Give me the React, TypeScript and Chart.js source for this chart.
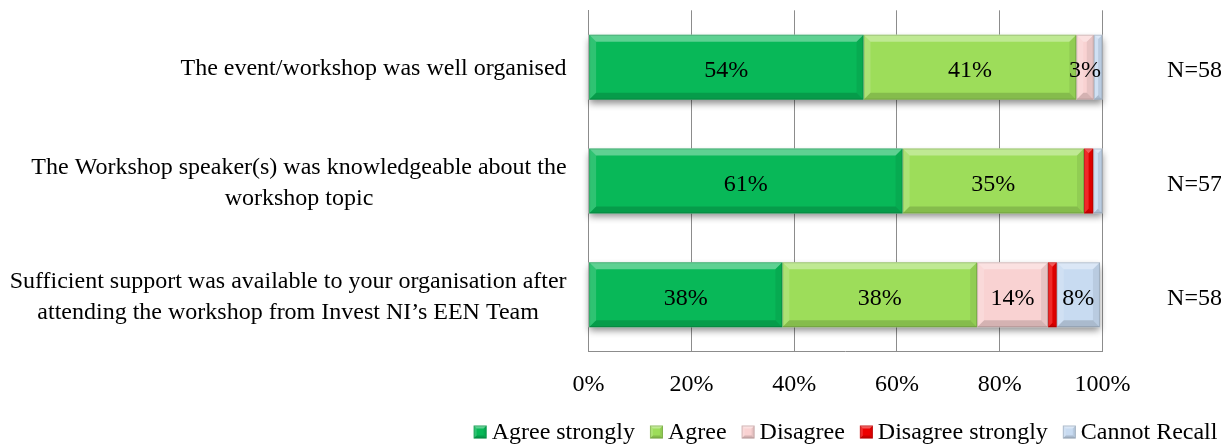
import { useEffect, useRef } from 'react';
import { Chart, registerables } from 'chart.js';

Chart.register(...registerables);

const categories: string[][] = [
  ['The event/workshop was well organised'],
  ['The Workshop speaker(s) was knowledgeable about the', 'workshop topic'],
  ['Sufficient support was available to your organisation after', 'attending the workshop from Invest NI\u2019s EEN Team'],
];
const seriesNames = ['Agree strongly', 'Agree', 'Disagree', 'Disagree strongly', 'Cannot Recall'];
const agreeStrongly = [53.5, 61.1, 37.7];
const agree = [41.4, 35.3, 37.9];
const disagree = [3.4, 0, 13.8];
const disagreeStrongly = [0, 1.8, 1.7];
const cannotRecall = [1.7, 1.8, 8.4];
const sampleSizes = ['N=58', 'N=57', 'N=58'];
const xTicks = [0, 20, 40, 60, 80, 100];
const seriesColors = ['#08B858', '#9DDD5A', '#F9D2D2', '#EE0000', '#C8DBF1'];

const FONT = "'Liberation Serif', 'Times New Roman', serif";
const FONT_SIZE = 24;
const GRID = '#8C8C8C';

function poly(ctx: CanvasRenderingContext2D, pts: number[][], fill: string) {
  ctx.beginPath();
  ctx.moveTo(pts[0][0], pts[0][1]);
  for (let i = 1; i < pts.length; i++) ctx.lineTo(pts[i][0], pts[i][1]);
  ctx.closePath();
  ctx.fillStyle = fill;
  ctx.fill();
}

function bevel(ctx: CanvasRenderingContext2D, l: number, t: number, r: number, b: number, size: number) {
  const w = r - l;
  const h = b - t;
  const bv = Math.min(size, w / 2, h / 2);
  poly(ctx, [[l, t], [r, t], [r - bv, t + bv], [l + bv, t + bv]], 'rgba(255,255,255,0.35)');
  poly(ctx, [[l, t], [l + bv, t + bv], [l + bv, b - bv], [l, b]], 'rgba(255,255,255,0.16)');
  poly(ctx, [[r, t], [r, b], [r - bv, b - bv], [r - bv, t + bv]], 'rgba(0,0,0,0.07)');
  poly(ctx, [[l, b], [r, b], [r - bv, b - bv], [l + bv, b - bv]], 'rgba(0,0,0,0.15)');
  ctx.strokeStyle = 'rgba(0,0,0,0.16)';
  ctx.lineWidth = 1;
  ctx.strokeRect(l + 0.5, t + 0.5, w - 1, h - 1);
}

const shadowPlugin = {
  id: 'barShadow',
  beforeDatasetsDraw(chart: any) {
    const { ctx, scales } = chart;
    const xs = scales.x;
    const meta0 = chart.getDatasetMeta(0);
    meta0.data.forEach((el: any, i: number) => {
      const { y, height } = el.getProps(['y', 'height'], true);
      let total = 0;
      chart.data.datasets.forEach((ds: any) => { total += ds.data[i]; });
      const l = xs.getPixelForValue(0);
      const r = xs.getPixelForValue(total);
      ctx.save();
      ctx.shadowColor = 'rgba(0,0,0,0.45)';
      ctx.shadowBlur = 7;
      ctx.shadowOffsetY = 4;
      ctx.fillStyle = '#ffffff';
      ctx.fillRect(l, y - height / 2, r - l, height);
      ctx.restore();
    });
  },
};

const decorPlugin = {
  id: 'decor',
  afterDatasetsDraw(chart: any) {
    const { ctx, chartArea, scales } = chart;
    const ys = scales.y;
    ctx.save();
    // bevels
    chart.data.datasets.forEach((ds: any, di: number) => {
      const meta = chart.getDatasetMeta(di);
      meta.data.forEach((el: any) => {
        const { x, y, base, height } = el.getProps(['x', 'y', 'base', 'height'], true);
        const l = Math.min(x, base);
        const r = Math.max(x, base);
        if (r - l < 0.5) return;
        bevel(ctx, l, y - height / 2, r, y + height / 2, 7);
      });
    });
    // data labels
    ctx.font = `${FONT_SIZE}px ${FONT}`;
    ctx.fillStyle = '#000';
    ctx.textAlign = 'center';
    ctx.textBaseline = 'middle';
    chart.data.datasets.forEach((ds: any, di: number) => {
      const meta = chart.getDatasetMeta(di);
      meta.data.forEach((el: any, i: number) => {
        const v = ds.data[i];
        if (v < 3) return;
        const { x, y, base } = el.getProps(['x', 'y', 'base'], true);
        ctx.fillText(Math.round(v) + '%', (x + base) / 2, y + 4);
      });
    });
    // category labels
    const right = chartArea.left - 22;
    categories.forEach((lines, i) => {
      const cy = ys.getPixelForValue(i) + 2;
      const widths = lines.map((s) => ctx.measureText(s).width);
      const bw = Math.max(...widths);
      const cx = right - bw / 2;
      lines.forEach((s, j) => {
        ctx.fillText(s, cx, cy + (j - (lines.length - 1) / 2) * 31);
      });
    });
    // sample sizes
    sampleSizes.forEach((s, i) => {
      const cy = ys.getPixelForValue(i) + 4;
      ctx.fillText(s, chartArea.right + 92, cy);
    });
    // legend
    const markerSize = 13;
    const gap = 5;
    const spacing = 15;
    const widths = seriesNames.map((s) => ctx.measureText(s).width);
    const total = widths.reduce((a, w) => a + markerSize + gap + w, 0) + spacing * (seriesNames.length - 1);
    let lx = (chartArea.left + chartArea.right) / 2 - total / 2;
    const ly = chart.height - 13;
    ctx.textAlign = 'left';
    seriesNames.forEach((s, i) => {
      const t = ly - markerSize / 2 - 1;
      ctx.fillStyle = seriesColors[i];
      ctx.fillRect(lx, t, markerSize, markerSize);
      bevel(ctx, lx, t, lx + markerSize, t + markerSize, 3);
      ctx.fillStyle = '#000';
      ctx.fillText(s, lx + markerSize + gap, ly);
      lx += markerSize + gap + widths[i] + spacing;
    });
    ctx.restore();
  },
};

export default function App() {
  const ref = useRef<HTMLCanvasElement | null>(null);
  useEffect(() => {
    if (!ref.current) return;
    const seriesData = [agreeStrongly, agree, disagree, disagreeStrongly, cannotRecall];
    const chart = new Chart(ref.current, {
      type: 'bar',
      data: {
        labels: categories,
        datasets: seriesNames.map((name, i) => ({
          label: name,
          data: seriesData[i],
          backgroundColor: seriesColors[i],
          borderWidth: 0,
          barPercentage: 0.571,
          categoryPercentage: 1,
        })),
      },
      options: {
        indexAxis: 'y',
        animation: false,
        responsive: false,
        maintainAspectRatio: false,
        layout: { padding: { left: 0, right: 118.5, top: 2.3, bottom: 27.5 } },
        plugins: { legend: { display: false }, tooltip: { enabled: false } },
        scales: {
          x: {
            stacked: true,
            min: 0,
            max: 100,
            afterBuildTicks: (scale: any) => { scale.ticks = xTicks.map((v) => ({ value: v })); },
            ticks: {
              callback: (v: any) => v + '%',
              color: '#000',
              font: { family: FONT, size: FONT_SIZE },
              padding: 19,
              maxRotation: 0,
              autoSkip: false,
            },
            grid: { color: GRID, lineWidth: 1, drawTicks: false },
            border: { display: true, color: GRID, width: 1 },
          },
          y: {
            stacked: true,
            ticks: { display: false },
            grid: { display: false, drawTicks: false },
            border: { display: true, color: GRID, width: 1 },
            afterFit: (scale: any) => { scale.width = 580.6; },
          },
        },
      },
      plugins: [shadowPlugin, decorPlugin],
    } as any);
    return () => chart.destroy();
  }, []);
  return (
    <div style={{ width: 1213, height: 438 }}>
      <canvas ref={ref} width={1213} height={438} style={{ display: 'block' }} />
    </div>
  );
}
